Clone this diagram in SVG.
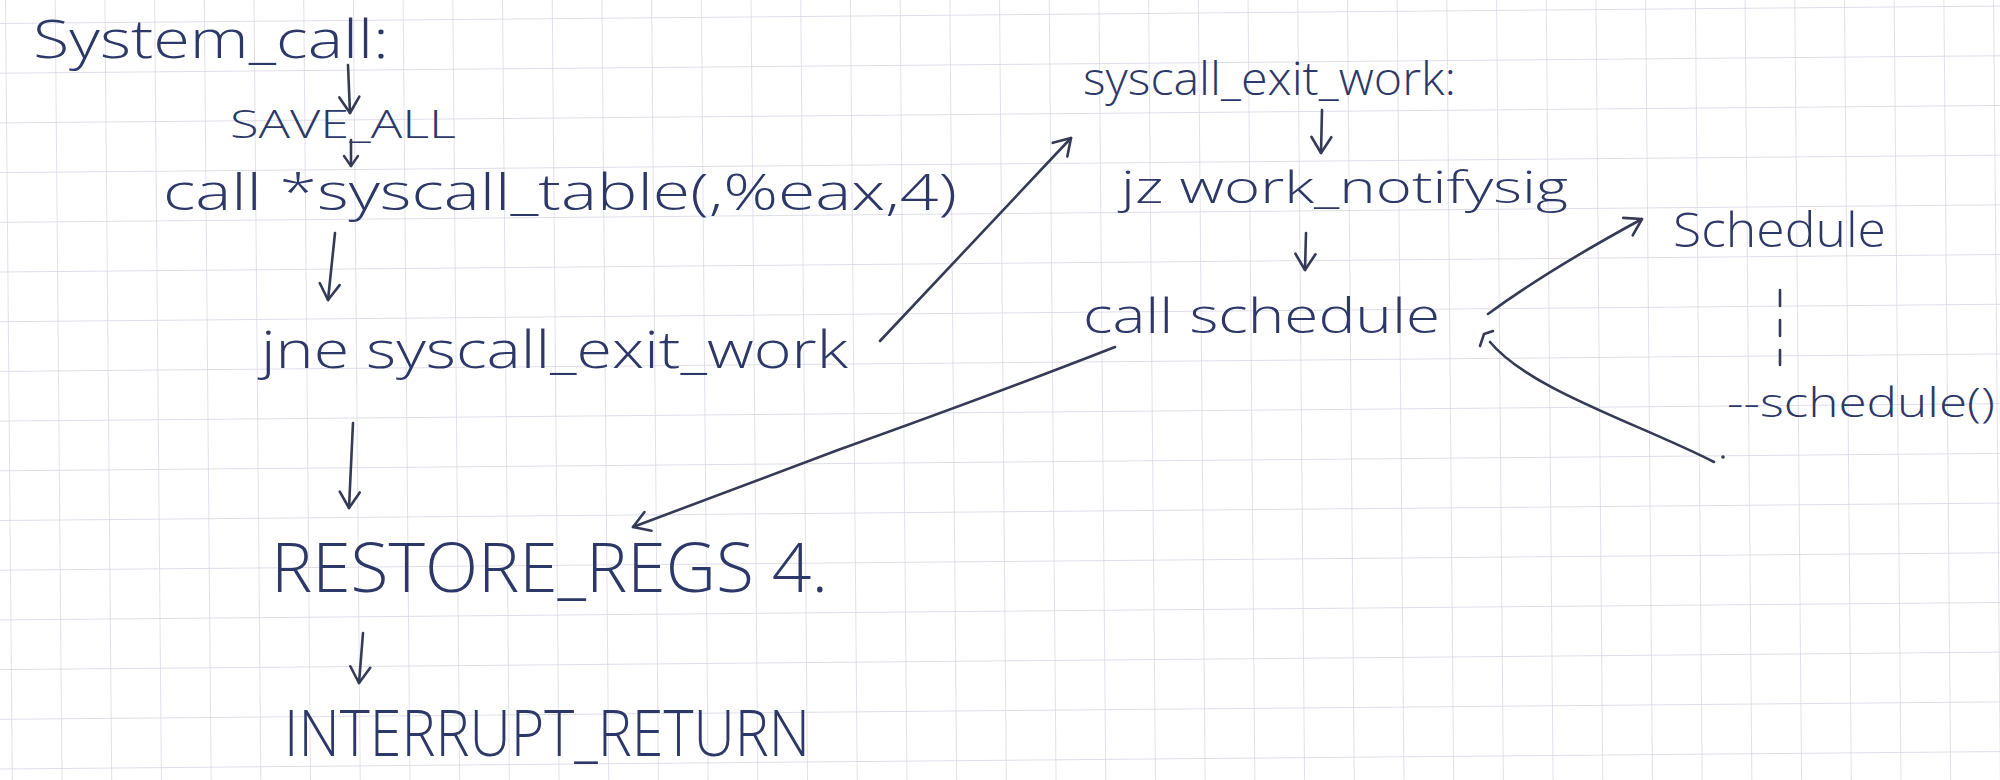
<svg xmlns="http://www.w3.org/2000/svg" width="2000" height="780" viewBox="0 0 2000 780">
  <defs>
    <pattern id="grid" patternUnits="userSpaceOnUse" width="49.7" height="49.7" patternTransform="rotate(-0.5) translate(5,23)">
      <path d="M0,0 H49.7 M0,0 V49.7" fill="none" stroke="#d4d4e4" stroke-width="1.4"/>
    </pattern>
    <marker id="vhead" markerUnits="userSpaceOnUse" markerWidth="40" markerHeight="40" refX="20" refY="20" orient="auto" viewBox="0 0 40 40">
      <path d="M4,10 L20,20 L4,30" fill="none" stroke="#353a55" stroke-width="2.6" stroke-linecap="round" stroke-linejoin="round"/>
    </marker>
    <marker id="vheadS" markerUnits="userSpaceOnUse" markerWidth="30" markerHeight="30" refX="15" refY="15" orient="auto" viewBox="0 0 30 30">
      <path d="M5,8 L15,15 L5,22" fill="none" stroke="#353a55" stroke-width="2.4" stroke-linecap="round" stroke-linejoin="round"/>
    </marker>
  </defs>
  <style>
    .ink { font-family: "Open Sans", "Liberation Sans", sans-serif; font-weight: 300; fill: #2c3868; }
    .conn { fill: none; stroke: #353a55; stroke-width: 2.6; stroke-linecap: round; }
  </style>

  <rect width="2000" height="780" fill="#ffffff"/>
  <rect width="2000" height="780" fill="url(#grid)"/>

  <g id="system_call"><text class="ink" x="33" y="58" font-size="54" textLength="356" lengthAdjust="spacingAndGlyphs">System_call:</text></g>
  <g id="save_all"><text class="ink" x="230" y="138" font-size="39" textLength="226" lengthAdjust="spacingAndGlyphs">SAVE_ALL</text></g>
  <g id="call_table"><text class="ink" x="163" y="210" font-size="50" textLength="794" lengthAdjust="spacingAndGlyphs">call *syscall_table(,%eax,4)</text></g>
  <g id="jne"><text class="ink" x="261" y="368" font-size="52" textLength="587" lengthAdjust="spacingAndGlyphs">jne syscall_exit_work</text></g>
  <g id="restore_regs"><text class="ink" x="271" y="592" font-size="68" textLength="557" lengthAdjust="spacingAndGlyphs">RESTORE_REGS 4.</text></g>
  <g id="interrupt_return"><text class="ink" x="284" y="756" font-size="64" textLength="526" lengthAdjust="spacingAndGlyphs">INTERRUPT_RETURN</text></g>
  <g id="syscall_exit_work"><text class="ink" x="1083" y="95" font-size="46" textLength="373" lengthAdjust="spacingAndGlyphs">syscall_exit_work:</text></g>
  <g id="jz"><text class="ink" x="1121" y="203" font-size="44" textLength="447" lengthAdjust="spacingAndGlyphs">jz work_notifysig</text></g>
  <g id="call_schedule"><text class="ink" x="1083" y="333" font-size="48" textLength="357" lengthAdjust="spacingAndGlyphs">call schedule</text></g>
  <g id="schedule"><text class="ink" x="1673" y="247" font-size="48" textLength="213" lengthAdjust="spacingAndGlyphs">Schedule</text></g>
  <g id="schedule_fn"><text class="ink" x="1727" y="417" font-size="40" textLength="268" lengthAdjust="spacingAndGlyphs">--schedule()</text></g>

  <g id="connectors">
    <path class="conn" d="M348,65 L350,113" marker-end="url(#vhead)"/>
    <path class="conn" d="M351,140 L351,166" marker-end="url(#vheadS)"/>
    <path class="conn" d="M335,233 L328,300" marker-end="url(#vhead)"/>
    <path class="conn" d="M353,423 L349,508" marker-end="url(#vhead)"/>
    <path class="conn" d="M363,633 L359,683" marker-end="url(#vhead)"/>
    <path class="conn" d="M1322,110 L1321,153" marker-end="url(#vhead)"/>
    <path class="conn" d="M1306,233 L1305,270" marker-end="url(#vhead)"/>
    <path class="conn" d="M880,341 L1071,138" marker-end="url(#vhead)"/>
    <path class="conn" d="M1115,347 Q1000,392 838,450 L633,527" marker-end="url(#vhead)"/>
    <path class="conn" d="M1488,314 Q1548,270 1642,219" marker-end="url(#vhead)"/>
    <path class="conn" d="M1714,462 C1640,424 1530,390 1490,342"/>
    <path class="conn" d="M1480,346 L1484,334 L1493,331"/>
    <circle cx="1723" cy="457" r="1.8" fill="#353a55"/>
    <path class="conn" d="M1780,290 L1780,365" stroke-dasharray="16,14"/>
  </g>
</svg>
